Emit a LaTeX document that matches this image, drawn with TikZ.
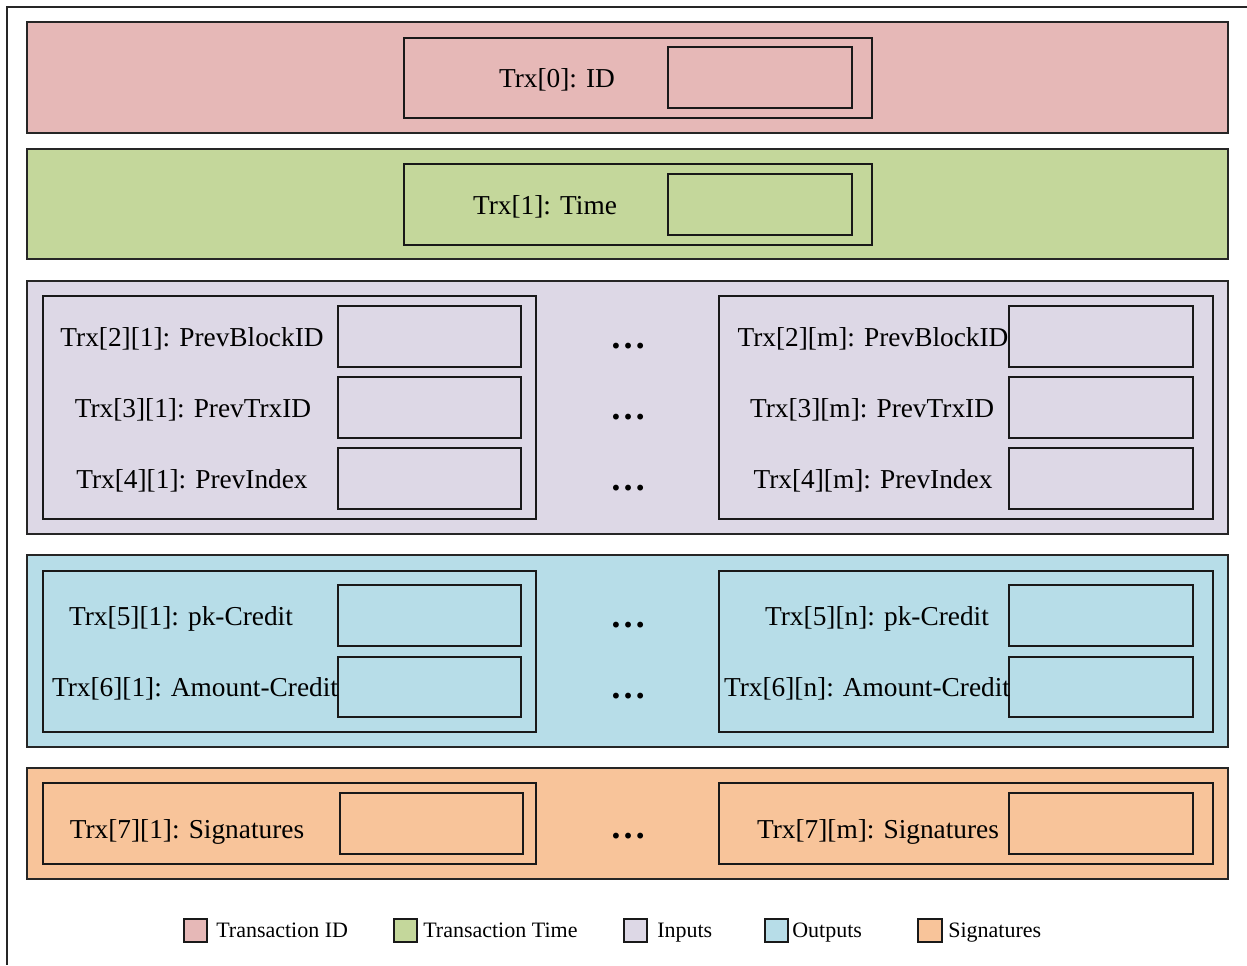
\documentclass[tikz,border=0pt]{standalone}
\usepackage{fontspec}
\setmainfont{Liberation Serif}
\definecolor{cid}{HTML}{E6B8B7}
\definecolor{ctime}{HTML}{C4D79B}
\definecolor{cin}{HTML}{DDD8E6}
\definecolor{cout}{HTML}{B7DDE8}
\definecolor{csig}{HTML}{F8C49A}
\begin{document}
\begin{tikzpicture}[x=0.75pt,y=-0.75pt,
  frame/.style={draw=black!85,line width=1.3pt},
  band/.style={draw=black!85,line width=1.1pt},
  inbox/.style={draw=black!90,line width=1.1pt},
  valbox/.style={draw=black!90,line width=1.1pt},
  lbl/.style={font=\fontsize{20.5}{24}\selectfont,anchor=base,inner sep=0pt},
  dotsty/.style={font=\fontsize{27}{30}\selectfont\bfseries,anchor=base,inner sep=0pt},
  leg/.style={font=\fontsize{16.5}{20}\selectfont,anchor=base west,inner sep=0pt},
  legbox/.style={draw=black!90,line width=1.1pt}]
\useasboundingbox (0,0) rectangle (1247,965);
\fill[white] (0,0) rectangle (1247,965);
% outer frame (cropped)
\draw[frame] (1247,7) -- (7,7) -- (7,965);

% ---------- Transaction ID ----------
\draw[band,fill=cid] (27,22) rectangle (1228,133);
\draw[inbox] (404,38) rectangle (872,118);
\draw[valbox] (668,47) rectangle (852,108);
\node[lbl] (t0) at (557,87) {Trx[0]: ID};

% ---------- Transaction Time ----------
\draw[band,fill=ctime] (27,149) rectangle (1228,259);
\draw[inbox] (404,164) rectangle (872,245);
\draw[valbox] (668,174) rectangle (852,235);
\node[lbl] (t1) at (545,214) {Trx[1]: Time};

% ---------- Inputs ----------
\draw[band,fill=cin] (27,281) rectangle (1228,534);
\draw[inbox] (43,296) rectangle (536,519);
\draw[inbox] (719,296) rectangle (1213,519);
\foreach \ya/\yb in {306/367,377/438,448/509}{
  \draw[valbox] (338,\ya) rectangle (521,\yb);
  \draw[valbox] (1009,\ya) rectangle (1193,\yb);
}
\node[lbl] (i21) at (192,346) {Trx[2][1]: PrevBlockID};
\node[lbl] (i31) at (193,417) {Trx[3][1]: PrevTrxID};
\node[lbl] (i41) at (192,488) {Trx[4][1]: PrevIndex};
\node[lbl] (i2m) at (873,346) {Trx[2][m]: PrevBlockID};
\node[lbl] (i3m) at (872,417) {Trx[3][m]: PrevTrxID};
\node[lbl] (i4m) at (873,488) {Trx[4][m]: PrevIndex};
\node[dotsty] (d1) at (628,348) {…};
\node[dotsty] (d2) at (628,419) {…};
\node[dotsty] (d3) at (628,490) {…};

% ---------- Outputs ----------
\draw[band,fill=cout] (27,555) rectangle (1228,747);
\draw[inbox] (43,571) rectangle (536,732);
\draw[inbox] (719,571) rectangle (1213,732);
\foreach \ya/\yb in {585/646,657/717}{
  \draw[valbox] (338,\ya) rectangle (521,\yb);
  \draw[valbox] (1009,\ya) rectangle (1193,\yb);
}
\node[lbl] (o51) at (181,625) {Trx[5][1]: pk-Credit};
\node[lbl] (o61) at (195,696) {Trx[6][1]: Amount-Credit};
\node[lbl] (o5n) at (877,625) {Trx[5][n]: pk-Credit};
\node[lbl] (o6n) at (867,696) {Trx[6][n]: Amount-Credit};
\node[dotsty] (d4) at (628,627) {…};
\node[dotsty] (d5) at (628,698) {…};

% ---------- Signatures ----------
\draw[band,fill=csig] (27,768) rectangle (1228,879);
\draw[inbox] (43,783) rectangle (536,864);
\draw[inbox] (719,783) rectangle (1213,864);
\draw[valbox] (340,793) rectangle (523,854);
\draw[valbox] (1009,793) rectangle (1193,854);
\node[lbl] (s71) at (187,838) {Trx[7][1]: Signatures};
\node[lbl] (s7m) at (878,838) {Trx[7][m]: Signatures};
\node[dotsty] (d6) at (628,838) {…};

% ---------- Legend ----------
\draw[legbox,fill=cid] (184,919) rectangle (207,942);
\node[leg] (l1) at (216,937) {Transaction ID};
\draw[legbox,fill=ctime] (394,919) rectangle (417,942);
\node[leg] (l2) at (423,937) {Transaction Time};
\draw[legbox,fill=cin] (624,919) rectangle (647,942);
\node[leg] (l3) at (657,937) {Inputs};
\draw[legbox,fill=cout] (765,919) rectangle (788,942);
\node[leg] (l4) at (792,937) {Outputs};
\draw[legbox,fill=csig] (918,919) rectangle (942,942);
\node[leg] (l5) at (948,937) {Signatures};
\end{tikzpicture}
\end{document}
